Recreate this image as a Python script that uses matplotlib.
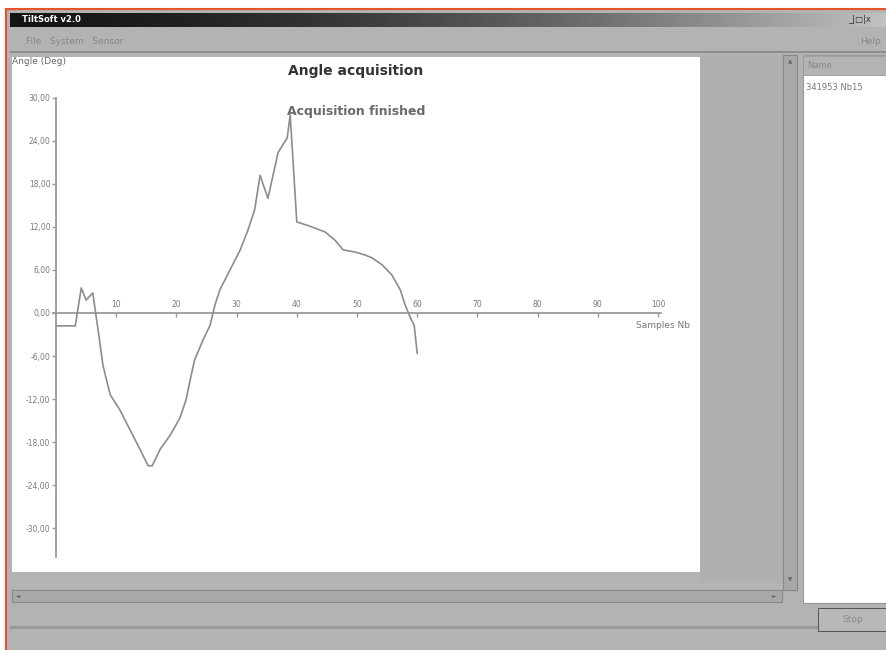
import numpy as np
import matplotlib
matplotlib.use("Agg")
import matplotlib.pyplot as plt
from matplotlib.patches import Rectangle
from matplotlib.ticker import FuncFormatter

# ---- data ----
samples = [0, 3.2, 4.2, 5.0, 6.1, 7.0, 7.8, 9.0, 10.6, 12.3, 14.0, 15.3, 16.0,
           17.3, 19.0, 20.6, 21.6, 22.3, 23.0, 24.4, 25.6, 26.4, 27.2, 28.9,
           30.6, 31.9, 33.0, 33.9, 35.2, 36.9, 38.4, 38.9, 40.0, 42.2, 44.7,
           46.3, 47.7, 49.7, 51.3, 52.5, 54.2, 55.8, 57.2, 58.0, 58.9, 59.5, 60.0]
angles = [-1.8, -1.8, 3.5, 1.8, 2.8, -2.4, -7.3, -11.4, -13.5, -16.3, -19.1, -21.3, -21.3,
          -19.0, -17.0, -14.6, -12.1, -9.3, -6.6, -3.8, -1.7, 1.1, 3.2, 6.0,
          8.8, 11.6, 14.4, 19.2, 16.0, 22.4, 24.4, 27.6, 12.7, 12.1, 11.3,
          10.2, 8.8, 8.5, 8.1, 7.7, 6.7, 5.3, 3.2, 1.1, -0.7, -1.7, -5.6]
x_ticks = [10, 20, 30, 40, 50, 60, 70, 80, 90, 100]
y_ticks = [-30, -24, -18, -12, -6, 0, 6, 12, 18, 24, 30]
title_text = "Angle acquisition"
status_text = "Acquisition finished"
y_label = "Angle (Deg)"
x_label = "Samples Nb"
list_header = "Name"
list_item = "341953 Nb15"

W, H = 887, 650
fig = plt.figure(figsize=(W / 100, H / 100), dpi=100)
fig.patch.set_facecolor("white")

GRAY = "#b3b3b3"

def rect(x0, y0, x1, y1, fc, ec="none", lw=0, z=-10):
    # pixel coords with origin at top-left
    r = Rectangle((x0 / W, 1 - y1 / H), (x1 - x0) / W, (y1 - y0) / H,
                  transform=fig.transFigure, facecolor=fc, edgecolor=ec,
                  linewidth=lw, zorder=z)
    fig.patches.append(r)
    return r

def ftext(x, y, s, **kw):
    fig.text(x / W, 1 - y / H, s, zorder=20, **kw)

# window frame
rect(6, 9, W + 5, H + 5, GRAY, ec="#e8502e", lw=1.5)
# title bar gradient
tb = fig.add_axes([10 / W, 1 - 27 / H, (W - 10) / W, 14 / H])
tb.set_zorder(10)
grad = np.linspace(0, 1, 256) ** 1.6
cols = np.array([0.08, 0.08, 0.08])[None, :] * (1 - grad[:, None]) + \
       np.array([0.76, 0.76, 0.76])[None, :] * grad[:, None]
cols = np.clip(cols, 0, 1)
tb.imshow(cols[None, :, :], aspect="auto", extent=[0, 1, 0, 1])
tb.set_axis_off()
ftext(22, 20, "TiltSoft v2.0", fontsize=6, color="white", fontweight="bold", va="center")
ftext(848, 20, "_|□|x", fontsize=6, color="#333333", va="center")
# menu bar
ftext(26, 41, "File   System   Sensor", fontsize=6.5, color="#888888", va="center")
ftext(860, 41, "Help", fontsize=6.5, color="#888888", va="center")
rect(10, 51, W, 53, "#8e8e8e")
# gray panel to right of chart
rect(700, 55, 782, 582, "#b0b0b0")
# vertical scrollbar
rect(783, 55, 797, 590, "#a8a8a8", ec="#888888", lw=0.8)
ftext(790, 62, "▲", fontsize=4, color="#666666", ha="center", va="center")
ftext(790, 580, "▼", fontsize=4, color="#666666", ha="center", va="center")
# horizontal scrollbar
rect(12, 590, 782, 602, "#a8a8a8", ec="#888888", lw=0.8)
ftext(18, 596, "◄", fontsize=4, color="#666666", ha="center", va="center")
ftext(774, 596, "►", fontsize=4, color="#666666", ha="center", va="center")
# list panel
rect(803, 55, W + 2, 603, "white", ec="#999999", lw=0.8)
rect(803, 56, W + 2, 75, "#b3b3b3", ec="#999999", lw=0.6)
ftext(807, 66, list_header, fontsize=6, color="#888888", va="center")
ftext(806, 87, list_item, fontsize=6, color="#777777", va="center")
# status bar / stop button
rect(10, 626, W, 629, "#9a9a9a")
rect(818, 608, W + 2, 631, "#b8b8b8", ec="#444444", lw=0.6)
ftext(853, 619, "Stop", fontsize=6.5, color="#8a8a8a", ha="center", va="center")

# ---- chart ----
ax = fig.add_axes([12 / W, 1 - 572 / H, 688 / W, 515 / H])
ax.set_zorder(10)
ax.set_facecolor("white")
xpx = 6.02
ypx = 7.17
ax.set_xlim(-(56 - 12) / xpx, -(56 - 12) / xpx + 688 / xpx)
ax.set_ylim(-(572 - 313) / ypx, (313 - 57) / ypx)

ax.plot(samples, angles, color="#8c8c8c", lw=1.2, zorder=3)

for s in ["right", "bottom"]:
    ax.spines[s].set_visible(False)
ax.spines["left"].set_position(("data", 0))
ax.spines["left"].set_bounds(-34, 30)
ax.spines["top"].set_position(("data", 0))
ax.spines["top"].set_bounds(-0.5, 100.5)
for s in ["left", "top"]:
    ax.spines[s].set_color("#9a9a9a")
    ax.spines[s].set_linewidth(1.3)

ax.xaxis.set_ticks_position("top")
ax.set_xticks(x_ticks)
ax.set_yticks(y_ticks)
ax.yaxis.set_major_formatter(FuncFormatter(lambda v, p: f"{v:.2f}".replace(".", ",")))
ax.tick_params(axis="x", direction="in", length=3, width=1, colors="#9a9a9a",
               labelsize=5.5, labelcolor="#7a7a7a", pad=3)
ax.tick_params(axis="y", direction="out", length=3, width=1, colors="#9a9a9a",
               labelsize=5.5, labelcolor="#7a7a7a", pad=1)

ax.text(0, 1, y_label, transform=ax.transAxes, fontsize=6.5, color="#666666",
        ha="left", va="top")
ax.text(96.3, -1.7, x_label, fontsize=6.5, color="#777777", ha="left", va="center",
        clip_on=False)
ax.text(0.5, 1 - 14 / 515, title_text, transform=ax.transAxes, fontsize=10,
        fontweight="bold", color="#333333", ha="center", va="center")
ax.text(0.5, 1 - 55 / 515, status_text, transform=ax.transAxes, fontsize=9,
        fontweight="bold", color="#6a6a6a", ha="center", va="center")

fig.savefig("out.png", dpi=100, facecolor=fig.get_facecolor())
